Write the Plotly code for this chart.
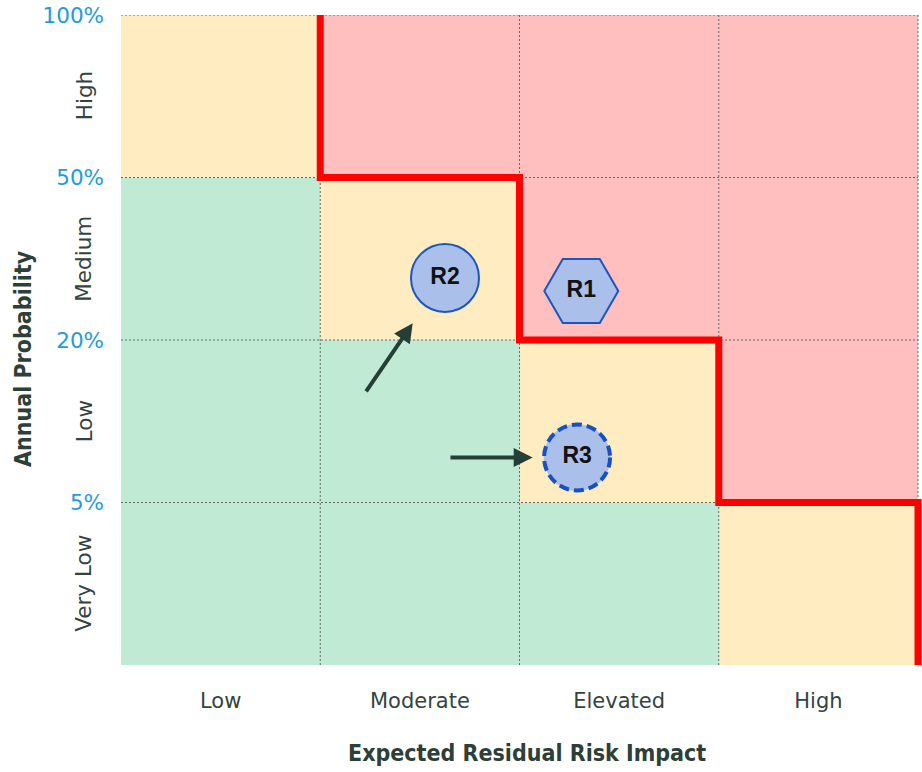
import plotly.graph_objects as go

# ---------------- data ----------------
impact_levels = ["Low", "Moderate", "Elevated", "High"]
prob_levels = ["Very Low", "Low", "Medium", "High"]          # bottom -> top
prob_bounds = ["5%", "20%", "50%", "100%"]                    # upper bound of each row
# risk class per cell: 0 = green, 1 = yellow, 2 = red ; rows bottom -> top
risk_grid = [
    [0, 0, 0, 1],
    [0, 0, 1, 2],
    [0, 1, 2, 2],
    [1, 2, 2, 2],
]
# tolerance boundary (step line) in grid units
boundary_x = [1, 1, 2, 2, 3, 3, 4, 4]
boundary_y = [4, 3, 3, 2, 2, 1, 1, 0]
# risks
risk_names = ["R1", "R2", "R3"]
risk_x = [2.31, 1.626, 2.289]
risk_y = [2.302, 2.382, 1.277]
risk_symbols = ["hexagon2", "circle", "circle"]
# movement arrows (tail -> head)
arrow_from_x = [1.225, 1.646]
arrow_from_y = [1.674, 1.277]
arrow_to_x = [1.464, 2.066]
arrow_to_y = [2.103, 1.277]

GREEN = "#C1EAD4"
YELLOW = "#FFEDC1"
RED = "#FFBFBF"
TXT = "#33443F"
TITLE = "#2C4038"
BLUE_TXT = "#1F9BDC"
GRID = "#5E6E66"

n_x = len(impact_levels)
n_y = len(prob_levels)

# x range extends slightly past the grid so the right edge of the red line is not clipped
X_MAX = 4.02

fig = go.Figure()

fig.add_trace(go.Heatmap(
    z=risk_grid,
    x=[i + 0.5 for i in range(n_x)],
    y=[j + 0.5 for j in range(n_y)],
    colorscale=[[0, GREEN], [0.3333, GREEN], [0.3334, YELLOW], [0.6666, YELLOW],
                [0.6667, RED], [1, RED]],
    zmin=0, zmax=2, showscale=False, hoverinfo="skip",
))

# dotted grid lines
gx, gy = [], []
for b in range(1, n_x + 1):
    gx += [b, b, None]
    gy += [0, n_y, None]
for b in range(1, n_y + 1):
    gx += [0, n_x, None]
    gy += [b, b, None]
fig.add_trace(go.Scatter(x=gx, y=gy, mode="lines",
                         line=dict(color=GRID, width=1, dash="2px,2px"),
                         hoverinfo="skip", showlegend=False))

# red tolerance line
fig.add_trace(go.Scatter(x=boundary_x, y=boundary_y, mode="lines",
                         line=dict(color="#FF0000", width=7),
                         hoverinfo="skip", showlegend=False))

# risk markers
fig.add_trace(go.Scatter(
    x=risk_x, y=risk_y, mode="markers+text", text=risk_names,
    textposition="middle center",
    textfont=dict(family="Liberation Sans", size=23, color="#111111", weight="bold"),
    marker=dict(symbol=risk_symbols, size=[74, 68, 67], color="#AABFE9", opacity=1,
                line=dict(color=["#1A55C2", "#1A55C2", "rgba(0,0,0,0)"], width=2)),
    cliponaxis=False, hoverinfo="skip", showlegend=False,
))

# dashed outline for R3
fig.add_shape(type="circle", xref="x", yref="y", xsizemode="pixel", ysizemode="pixel",
              xanchor=risk_x[2], yanchor=risk_y[2], x0=-33, x1=33, y0=-33, y1=33,
              line=dict(color="#1650C4", width=4, dash="10px,5px"), layer="above")

# arrows
for fx, fy, tx, ty in zip(arrow_from_x, arrow_from_y, arrow_to_x, arrow_to_y):
    fig.add_annotation(x=tx, y=ty, ax=fx, ay=fy, xref="x", yref="y", axref="x", ayref="y",
                       showarrow=True, arrowhead=2, arrowsize=0.95, arrowwidth=4,
                       arrowcolor="#263F36", text="", standoff=0)

# rotated probability level labels (paper coordinates)
for j, lab in enumerate(prob_levels):
    fig.add_annotation(x=(84 - 121) / 801, y=(j + 0.5) / n_y, xref="paper", yref="paper",
                       text=lab, textangle=-90, showarrow=False,
                       xanchor="center", yanchor="middle",
                       font=dict(family="DejaVu Sans", size=21.5, color=TXT))

fig.add_annotation(x=(23 - 121) / 801, y=(665 - 359) / 650, xref="paper", yref="paper",
                   text="<b>Annual Probability</b>", textangle=-90, showarrow=False,
                   xanchor="center", yanchor="middle",
                   font=dict(family="DejaVu Sans Condensed, DejaVu Sans", size=23, color=TITLE))
fig.add_annotation(x=(527 - 121) / 801, y=-(753 - 665) / 650, xref="paper", yref="paper",
                   text="<b>Expected Residual Risk Impact</b>", showarrow=False,
                   xanchor="center", yanchor="middle",
                   font=dict(family="DejaVu Sans Condensed, DejaVu Sans", size=23, color=TITLE))

fig.update_xaxes(range=[0, X_MAX], tickvals=[i + 0.5 for i in range(n_x)], ticktext=impact_levels,
                 showgrid=False, zeroline=False, showline=False, ticks="",
                 tickfont=dict(family="DejaVu Sans", size=21, color=TXT),
                 ticklabelstandoff=21, fixedrange=True)
fig.update_yaxes(range=[0, 4], tickvals=[j + 1 for j in range(n_y)], ticktext=prob_bounds,
                 showgrid=False, zeroline=False, showline=False, ticks="",
                 tickfont=dict(family="DejaVu Sans", size=21.5, color=BLUE_TXT),
                 ticklabelstandoff=16, fixedrange=True)

fig.update_layout(width=922, height=772, margin=dict(l=121, r=0, t=15, b=107),
                  paper_bgcolor="white", plot_bgcolor="white", showlegend=False)

fig.write_html("out.html")
